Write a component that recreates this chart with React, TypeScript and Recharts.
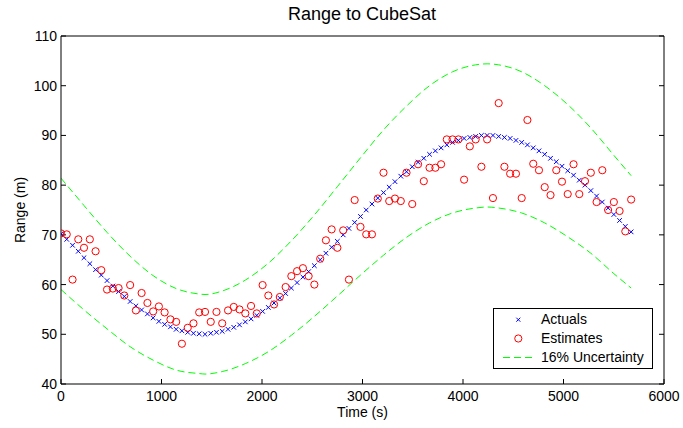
import React from 'react';
import { ComposedChart, Scatter, Line, XAxis, YAxis, Legend } from 'recharts';

// sample times (s)
const times = [
  0, 57, 115, 172, 229, 287, 344, 401, 458, 516,
  573, 630, 688, 745, 802, 860, 917, 974, 1031, 1089,
  1146, 1203, 1261, 1318, 1375, 1433, 1490, 1547, 1604, 1662,
  1719, 1776, 1834, 1891, 1948, 2006, 2063, 2120, 2177, 2235,
  2292, 2349, 2407, 2464, 2521, 2579, 2636, 2693, 2750, 2808,
  2865, 2922, 2980, 3037, 3094, 3152, 3209, 3266, 3323, 3381,
  3438, 3495, 3553, 3610, 3667, 3725, 3782, 3839, 3896, 3954,
  4011, 4068, 4126, 4183, 4240, 4298, 4355, 4412, 4469, 4527,
  4584, 4641, 4699, 4756, 4813, 4871, 4928, 4985, 5042, 5100,
  5157, 5214, 5272, 5329, 5386, 5444, 5501, 5558, 5615, 5673,
];

// true range (m)
const actuals = [
  70.2, 69.1, 67.9, 66.7, 65.4, 64.2, 63.0, 61.9, 60.8, 59.7,
  58.6, 57.6, 56.6, 55.7, 54.9, 54.1, 53.3, 52.6, 52.0, 51.5,
  51.0, 50.7, 50.4, 50.2, 50.1, 50.0, 50.2, 50.4, 50.6, 51.0,
  51.4, 51.9, 52.5, 53.1, 53.8, 54.6, 55.4, 56.3, 57.3, 58.2,
  59.3, 60.4, 61.5, 62.6, 63.8, 65.0, 66.3, 67.5, 68.7, 70.0,
  71.3, 72.5, 73.7, 75.0, 76.2, 77.4, 78.5, 79.6, 80.7, 81.8,
  82.7, 83.7, 84.6, 85.4, 86.2, 86.9, 87.5, 88.1, 88.6, 89.0,
  89.4, 89.6, 89.8, 90.0, 90.0, 90.0, 89.8, 89.6, 89.4, 89.0,
  88.6, 88.1, 87.5, 86.9, 86.2, 85.4, 84.7, 83.8, 82.9, 82.0,
  81.0, 80.0, 78.9, 77.8, 76.6, 75.4, 74.1, 72.9, 71.7, 70.6,
];

// estimated range (m)
const estimates = [
  70.3, 70.1, 61.0, 69.1, 67.4, 69.1, 66.7, 62.9, 59.0, 59.2,
  59.3, 57.8, 59.9, 54.8, 58.3, 56.3, 54.6, 55.6, 54.4, 53.0,
  52.5, 48.1, 51.3, 52.2, 54.4, 54.5, 52.5, 54.5, 52.2, 54.8,
  55.5, 55.0, 54.2, 55.7, 54.2, 59.9, 57.8, 56.0, 57.5, 59.5,
  61.7, 62.7, 63.3, 61.7, 60.0, 65.2, 68.9, 71.1, 67.4, 70.9,
  61.0, 77.0, 71.6, 70.1, 70.1, 77.3, 82.5, 76.8, 77.3, 76.8,
  82.5, 76.2, 84.2, 80.8, 83.5, 83.5, 84.2, 89.2, 89.2, 89.2,
  81.1, 87.8, 89.2, 83.7, 89.2, 77.4, 96.5, 83.7, 82.3, 82.3,
  77.4, 93.1, 84.3, 83.0, 79.6, 78.0, 83.0, 80.7, 78.2, 84.2,
  78.2, 80.8, 82.5, 76.6, 83.0, 75.0, 76.6, 74.8, 70.7, 77.1,
];

// 16% uncertainty envelope
const boundTimes = [
  0, 229, 458, 688, 917, 1146, 1375, 1433, 1604, 1834,
  2063, 2292, 2521, 2750, 2980, 3209, 3438, 3667, 3896, 4126,
  4240, 4355, 4584, 4813, 5042, 5272, 5501, 5673,
];
const upperBound = [
  81.4, 75.9, 70.5, 65.7, 61.8, 59.2, 58.1, 58.0, 58.7, 60.9,
  64.3, 68.8, 74.0, 79.7, 85.5, 91.1, 95.9, 100.0, 102.8, 104.2,
  104.4, 104.2, 102.8, 100.0, 96.2, 91.5, 86.0, 81.9,
];
const lowerBound = [
  59.0, 54.9, 51.1, 47.5, 44.8, 42.8, 42.1, 42.0, 42.5, 44.1,
  46.5, 49.8, 53.6, 57.7, 61.9, 65.9, 69.5, 72.4, 74.4, 75.4,
  75.6, 75.4, 74.4, 72.4, 69.6, 66.3, 62.2, 59.3,
];

const xTicks = [0, 1000, 2000, 3000, 4000, 5000, 6000];
const yTicks = [40, 50, 60, 70, 80, 90, 100, 110];

const legendItems = [
  { name: 'Actuals', kind: 'x', color: '#0000ff' },
  { name: 'Estimates', kind: 'o', color: '#ff0000' },
  { name: '16% Uncertainty', kind: 'dash', color: '#00ff00' },
];

const FONT = '"Liberation Sans", Arial, Helvetica, sans-serif';

const actualPts = times.map((t, i) => ({ t, v: actuals[i] }));
const estimatePts = times.map((t, i) => ({ t, v: estimates[i] }));
const upperPts = boundTimes.map((t, i) => ({ t, v: upperBound[i] }));
const lowerPts = boundTimes.map((t, i) => ({ t, v: lowerBound[i] }));

const XMark = (props: any) => {
  const { cx, cy } = props;
  const s = 2.3;
  return (
    <path
      d={`M${cx - s},${cy - s}L${cx + s},${cy + s}M${cx - s},${cy + s}L${cx + s},${cy - s}`}
      stroke="#0000ff"
      strokeWidth={1}
      fill="none"
    />
  );
};

const OMark = (props: any) => (
  <circle cx={props.cx} cy={props.cy} r={3.6} stroke="#ff0000" strokeWidth={1} fill="none" />
);

const renderLegend = () => (
  <div
    style={{
      boxSizing: 'border-box',
      width: 160,
      border: '1px solid #000',
      background: '#fff',
      padding: '1px 0',
      fontFamily: FONT,
      fontSize: 14,
      color: '#000',
    }}
  >
    {legendItems.map((item) => (
      <div key={item.name} style={{ display: 'flex', alignItems: 'center', height: 19 }}>
        <svg width={47} height={19} style={{ flex: 'none' }}>
          {item.kind === 'x' && (
            <path d="M22.3,7.7L26.3,11.7M22.3,11.7L26.3,7.7" stroke={item.color} fill="none" />
          )}
          {item.kind === 'o' && <circle cx={24.3} cy={9.5} r={3.6} stroke={item.color} fill="none" />}
          {item.kind === 'dash' && (
            <line x1={9} y1={9.5} x2={39} y2={9.5} stroke={item.color} strokeDasharray="7 4" />
          )}
        </svg>
        <span style={{ whiteSpace: 'nowrap', lineHeight: '19px' }}>{item.name}</span>
      </div>
    ))}
  </div>
);

const tickStyle = { fontSize: 14, fontFamily: FONT, fill: '#000' };

export default function App() {
  return (
    <div style={{ position: 'absolute', left: 0, top: 0, width: 683, height: 428, background: '#fff' }}>
      <div
        style={{
          position: 'absolute',
          left: 60,
          top: 4,
          width: 604,
          textAlign: 'center',
          fontFamily: FONT,
          fontSize: 18,
          color: '#000',
        }}
      >
        Range to CubeSat
      </div>
      <ComposedChart width={683} height={428} margin={{ top: 35, right: 18, bottom: 0, left: 0 }}>
        <XAxis
          dataKey="t"
          type="number"
          domain={[0, 6000]}
          ticks={xTicks}
          allowDataOverflow
          height={44}
          stroke="#000"
          tickSize={-5}
          tickMargin={12}
          tick={tickStyle}
          label={{ value: 'Time (s)', position: 'insideBottom', offset: 11, style: { fontSize: 14, fontFamily: FONT, fill: '#000' } }}
        />
        <XAxis
          xAxisId="top"
          orientation="top"
          type="number"
          domain={[0, 6000]}
          ticks={xTicks}
          allowDataOverflow
          height={1}
          stroke="#000"
          tickSize={-5}
          tickFormatter={() => ''}
        />
        <YAxis
          type="number"
          domain={[40, 110]}
          ticks={yTicks}
          allowDataOverflow
          width={61}
          stroke="#000"
          tickSize={-5}
          tickMargin={9}
          tick={tickStyle}
          label={{
            value: 'Range (m)',
            angle: -90,
            position: 'insideLeft',
            offset: 20,
            style: { textAnchor: 'middle', fontSize: 14, fontFamily: FONT, fill: '#000' },
          }}
        />
        <YAxis
          yAxisId="right"
          orientation="right"
          type="number"
          domain={[40, 110]}
          ticks={yTicks}
          allowDataOverflow
          width={1}
          stroke="#000"
          tickSize={-5}
          tickFormatter={() => ''}
        />
        <Scatter data={actualPts} dataKey="v" shape={XMark} isAnimationActive={false} />
        <Scatter data={estimatePts} dataKey="v" shape={OMark} isAnimationActive={false} />
        <Line
          data={upperPts}
          dataKey="v"
          type="monotone"
          stroke="#00ff00"
          strokeWidth={1}
          strokeDasharray="7 4"
          dot={false}
          activeDot={false}
          isAnimationActive={false}
        />
        <Line
          data={lowerPts}
          dataKey="v"
          type="monotone"
          stroke="#00ff00"
          strokeWidth={1}
          strokeDasharray="7 4"
          dot={false}
          activeDot={false}
          isAnimationActive={false}
        />
        <Legend
          content={renderLegend}
          layout="vertical"
          align="center"
          verticalAlign="middle"
          wrapperStyle={{ left: 493, top: 308, width: 160 }}
        />
      </ComposedChart>
    </div>
  );
}
